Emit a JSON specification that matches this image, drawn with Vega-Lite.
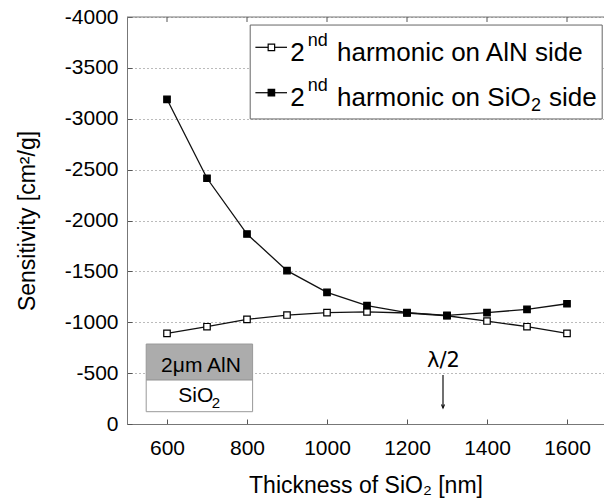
{
  "$schema": "https://vega.github.io/schema/vega-lite/v6.json",
  "width": 477,
  "height": 407,
  "autosize": {"type": "none"},
  "padding": {"left": 127, "top": 17, "right": 0, "bottom": 78},
  "background": "white",
  "config": {
    "view": {"stroke": null},
    "font": "Liberation Sans",
    "axis": {"labelFont": "Liberation Sans", "titleFont": "Liberation Sans", "labelColor": "#000", "titleColor": "#000", "titleFontWeight": "normal"}
  },
  "datasets": {
    "main": [
      {"t": 600, "s": -891, "series": "AlN"},
      {"t": 700, "s": -956, "series": "AlN"},
      {"t": 800, "s": -1029, "series": "AlN"},
      {"t": 900, "s": -1071, "series": "AlN"},
      {"t": 1000, "s": -1094, "series": "AlN"},
      {"t": 1100, "s": -1101, "series": "AlN"},
      {"t": 1200, "s": -1091, "series": "AlN"},
      {"t": 1300, "s": -1064, "series": "AlN"},
      {"t": 1400, "s": -1012, "series": "AlN"},
      {"t": 1500, "s": -956, "series": "AlN"},
      {"t": 1600, "s": -891, "series": "AlN"},
      {"t": 600, "s": -3191, "series": "SiO2"},
      {"t": 700, "s": -2415, "series": "SiO2"},
      {"t": 800, "s": -1867, "series": "SiO2"},
      {"t": 900, "s": -1507, "series": "SiO2"},
      {"t": 1000, "s": -1294, "series": "SiO2"},
      {"t": 1100, "s": -1163, "series": "SiO2"},
      {"t": 1200, "s": -1094, "series": "SiO2"},
      {"t": 1300, "s": -1068, "series": "SiO2"},
      {"t": 1400, "s": -1094, "series": "SiO2"},
      {"t": 1500, "s": -1127, "series": "SiO2"},
      {"t": 1600, "s": -1182, "series": "SiO2"}
    ],
    "one": [{"k": 1}]
  },
  "layer": [
    {
      "data": {"name": "main"},
      "mark": {"type": "line", "color": "#111", "strokeWidth": 1.3},
      "encoding": {
        "x": {"field": "t", "type": "quantitative",
          "scale": {"domain": [500, 1692.5], "nice": false, "zero": false},
          "axis": {"values": [600, 800, 1000, 1200, 1400, 1600], "format": "d", "title": "Thickness of SiO₂ [nm]",
            "labelFontSize": 21, "titleFontSize": 23, "tickSize": -5, "tickColor": "#555", "domainColor": "#777",
            "labelPadding": 18, "titlePadding": 16, "grid": false}},
        "y": {"field": "s", "type": "quantitative",
          "scale": {"domain": [0, -4000], "nice": false, "zero": false},
          "axis": {"values": [0, -500, -1000, -1500, -2000, -2500, -3000, -3500, -4000],
            "labelExpr": "replace(format(datum.value, 'd'), '−', '-')",
            "title": "Sensitivity [cm²/g]",
            "labelFontSize": 21, "titleFontSize": 23, "tickSize": -5, "tickColor": "#555", "domainColor": "#777",
            "labelPadding": 14, "titlePadding": 25,
            "grid": true, "gridColor": "#777", "gridDash": [1, 3], "gridWidth": 1}},
        "detail": {"field": "series", "type": "nominal"}
      }
    },
    {
      "data": {"name": "main"},
      "mark": {"type": "point", "shape": "square", "size": 42, "stroke": "#000", "strokeWidth": 1.2, "opacity": 1},
      "encoding": {
        "x": {"field": "t", "type": "quantitative"},
        "y": {"field": "s", "type": "quantitative"},
        "fill": {"field": "series", "type": "nominal", "scale": {"domain": ["AlN", "SiO2"], "range": ["#ffffff", "#000000"]}, "legend": null}
      }
    },
    {
      "data": {"name": "one"},
      "mark": {"type": "rule", "stroke": "#777", "strokeWidth": 1},
      "encoding": {"x": {"datum": 500}, "x2": {"datum": 1692.5}, "y": {"datum": -4000}}
    },
    {
      "data": {"values": [{"t": 600}, {"t": 800}, {"t": 1000}, {"t": 1200}, {"t": 1400}, {"t": 1600}]},
      "mark": {"type": "rule", "stroke": "#555", "strokeWidth": 1},
      "encoding": {"x": {"field": "t", "type": "quantitative"}, "y": {"datum": -4000}, "y2": {"datum": -3951}}
    },
    {
      "data": {"name": "one"},
      "mark": {"type": "rect", "fill": "#ffffff", "stroke": "#666", "strokeWidth": 1},
      "encoding": {"x": {"datum": 808}, "x2": {"datum": 1688}, "y": {"datum": -3921}, "y2": {"datum": -2998}}
    },
    {
      "data": {"values": [{"row": "a", "x": 821, "y": -3702}, {"row": "a", "x": 900, "y": -3702}, {"row": "b", "x": 821, "y": -3256}, {"row": "b", "x": 900, "y": -3256}]},
      "mark": {"type": "line", "color": "#111", "strokeWidth": 1.3},
      "encoding": {"x": {"field": "x", "type": "quantitative"}, "y": {"field": "y", "type": "quantitative"}, "detail": {"field": "row", "type": "nominal"}}
    },
    {
      "data": {"values": [{"series": "AlN", "x": 861, "y": -3702}, {"series": "SiO2", "x": 861, "y": -3256}]},
      "mark": {"type": "point", "shape": "square", "size": 42, "stroke": "#000", "strokeWidth": 1.2, "opacity": 1},
      "encoding": {"x": {"field": "x", "type": "quantitative"}, "y": {"field": "y", "type": "quantitative"},
        "fill": {"field": "series", "type": "nominal", "legend": null}}
    },
    {
      "data": {"values": [
        {"txt": "2", "x": 908, "y": -3571},
        {"txt": "harmonic on AlN side", "x": 1025, "y": -3571},
        {"txt": "2", "x": 908, "y": -3128},
        {"txt": "harmonic on SiO", "x": 1025, "y": -3128},
        {"txt": "side", "x": 1555, "y": -3128}
      ]},
      "mark": {"type": "text", "align": "left", "baseline": "alphabetic", "fontSize": 26, "color": "#000"},
      "encoding": {"x": {"field": "x", "type": "quantitative"}, "y": {"field": "y", "type": "quantitative"}, "text": {"field": "txt"}}
    },
    {
      "data": {"values": [
        {"txt": "nd", "x": 952, "y": -3718},
        {"txt": "nd", "x": 952, "y": -3276},
        {"txt": "2", "x": 1510, "y": -3076}
      ]},
      "mark": {"type": "text", "align": "left", "baseline": "alphabetic", "fontSize": 18, "color": "#000"},
      "encoding": {"x": {"field": "x", "type": "quantitative"}, "y": {"field": "y", "type": "quantitative"}, "text": {"field": "txt"}}
    },
    {
      "data": {"name": "one"},
      "mark": {"type": "rect", "fill": "#acacac", "stroke": "#999", "strokeWidth": 1},
      "encoding": {"x": {"datum": 548}, "x2": {"datum": 814}, "y": {"datum": -786}, "y2": {"datum": -432}}
    },
    {
      "data": {"name": "one"},
      "mark": {"type": "rect", "fill": "#ffffff", "stroke": "#999", "strokeWidth": 1},
      "encoding": {"x": {"datum": 548}, "x2": {"datum": 814}, "y": {"datum": -432}, "y2": {"datum": -121}}
    },
    {
      "data": {"values": [
        {"txt": "2μm AlN", "x": 685, "y": -514},
        {"txt": "SiO", "x": 672, "y": -219}
      ]},
      "mark": {"type": "text", "align": "center", "baseline": "alphabetic", "fontSize": 21, "color": "#000"},
      "encoding": {"x": {"field": "x", "type": "quantitative"}, "y": {"field": "y", "type": "quantitative"}, "text": {"field": "txt"}}
    },
    {
      "data": {"values": [{"txt": "2", "x": 712, "y": -157}]},
      "mark": {"type": "text", "align": "left", "baseline": "alphabetic", "fontSize": 15, "color": "#000"},
      "encoding": {"x": {"field": "x", "type": "quantitative"}, "y": {"field": "y", "type": "quantitative"}, "text": {"field": "txt"}}
    },
    {
      "data": {"values": [{"txt": "λ/2", "x": 1291, "y": -563}]},
      "mark": {"type": "text", "align": "center", "baseline": "alphabetic", "fontSize": 21, "color": "#000", "font": "DejaVu Sans"},
      "encoding": {"x": {"field": "x", "type": "quantitative"}, "y": {"field": "y", "type": "quantitative"}, "text": {"field": "txt"}}
    },
    {
      "data": {"name": "one"},
      "mark": {"type": "rule", "stroke": "#111", "strokeWidth": 1.2},
      "encoding": {"x": {"datum": 1290}, "y": {"datum": -482}, "y2": {"datum": -160}}
    },
    {
      "data": {"name": "one"},
      "mark": {"type": "point", "shape": "M-1,-2.3L0,0L1,-2.3", "size": 9, "filled": false, "stroke": "#111", "strokeWidth": 1.2, "opacity": 1},
      "encoding": {"x": {"datum": 1290}, "y": {"datum": -157}}
    }
  ]
}
